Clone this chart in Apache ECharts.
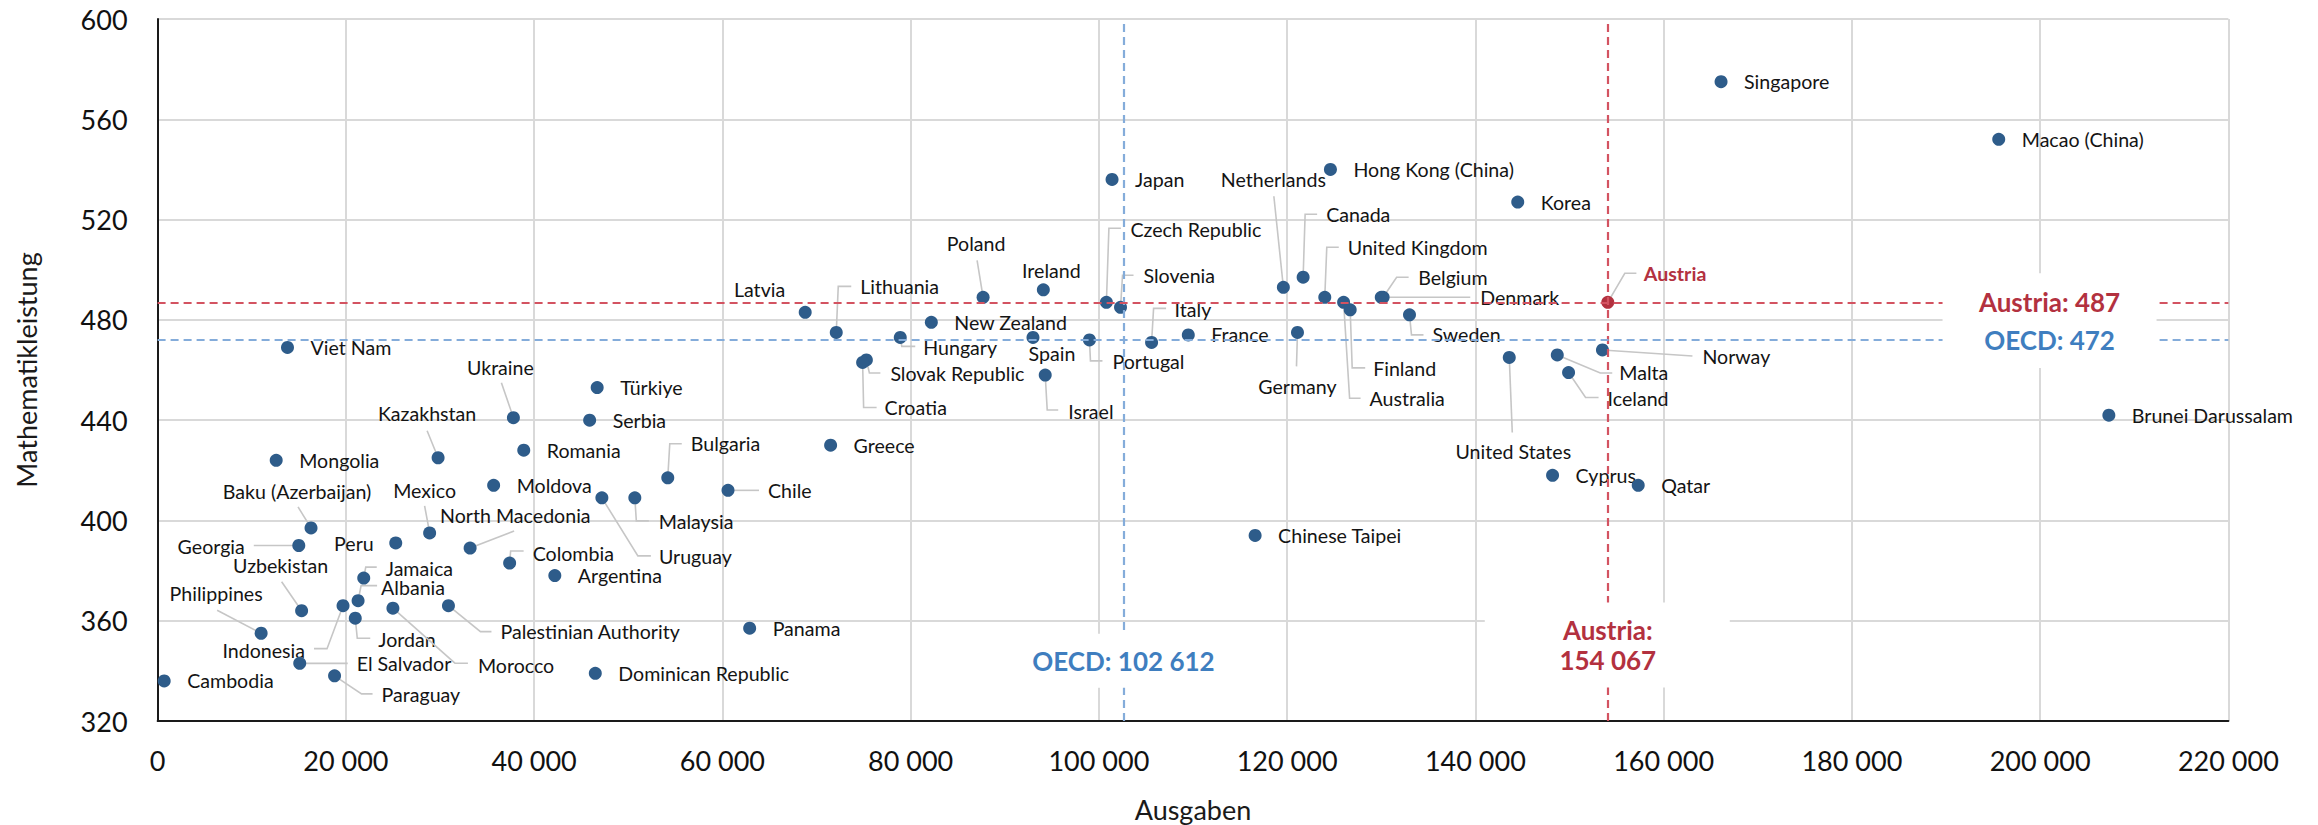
<!DOCTYPE html>
<html>
<head>
<meta charset="utf-8">
<script src="https://cdn.jsdelivr.net/npm/echarts@6/dist/echarts.min.js"></script>
<style>
html,body{margin:0;padding:0;background:#ffffff;}
#chart{width:2318px;height:825px;}
</style>
</head>
<body>
<div id="chart"></div>
<script>
// ---- data ----
const countries = ['Viet Nam','Ukraine','Kazakhstan','Romania','Mongolia','Moldova','Baku (Azerbaijan)','Mexico','North Macedonia','Georgia','Peru','Colombia','Argentina','Jamaica','Albania','Uzbekistan','Indonesia','Jordan','Morocco','Palestinian Authority','Philippines','El Salvador','Paraguay','Cambodia','Serbia','Türkiye','Bulgaria','Greece','Chile','Uruguay','Malaysia','Panama','Dominican Republic','Latvia','Lithuania','Poland','Ireland','Czech Republic','Slovenia','New Zealand','Hungary','Spain','Portugal','Italy','Slovak Republic','Croatia','Israel','Japan','Hong Kong (China)','Korea','Netherlands','Canada','United Kingdom','Australia','Finland','Belgium','Denmark','Sweden','Germany','France','Austria','United States','Malta','Iceland','Norway','Singapore','Macao (China)','Brunei Darussalam','Chinese Taipei','Cyprus','Qatar'];
const spending = [13800,37800,29800,38900,12600,35700,16300,28900,33200,15000,25300,37400,42200,21900,21300,15300,19700,21000,25000,30900,11000,15100,18800,700,45900,46700,54200,71500,60600,47200,50700,62900,46500,68800,72100,87700,94100,100800,102300,82200,78900,93000,99000,105600,75300,74900,94300,101400,124600,144500,119600,121700,124000,126000,126700,130200,130000,133000,121100,109500,154067,143600,148700,149900,153500,166100,195600,207300,116600,148200,157300];
const mathScore = [469,441,425,428,424,414,397,395,389,390,391,383,378,377,368,364,366,361,365,366,355,343,338,336,440,453,417,430,412,409,409,357,339,483,475,489,492,487,485,479,473,473,472,471,464,463,458,536,540,527,493,497,489,487,484,489,489,482,475,474,487,465,466,459,468,575,552,442,394,418,414];

const oecdSpending = 102612;
const austriaSpending = 154067;
const oecdMath = 472;
const austriaMath = 487;

const xTicks = [0,20000,40000,60000,80000,100000,120000,140000,160000,180000,200000,220000];
const yTicks = [320,360,400,440,480,520,560,600];

// ---- layout / style config (kept separate from data) ----
const FONT = 'Lato';
const DOT = '#2E5C8A';
const RED = '#B3313F';
const RED_LINE = '#D35361';
const BLUE_TEXT = '#3F7EBF';
const BLUE_LINE = '#84ACDA';
const LEAD = '#C6C6C6';

// label offsets in px relative to the dot centre; a = anchor (l: left edge, c: centre, r: right edge)
const defaultPlacement = {a:'l', dx:23, dy:0};
const labelPlacement = {
 'Ukraine': {a:'c', dx:-13, dy:-50, lead:[[-12,-35]]},
 'Kazakhstan': {a:'c', dx:-11, dy:-44, lead:[[-11,-27]]},
 'Baku (Azerbaijan)': {a:'c', dx:-14, dy:-36, lead:[[-13,-21]]},
 'Mexico': {a:'c', dx:-5, dy:-42, lead:[[-5,-27]]},
 'North Macedonia': {a:'l', dx:-30, dy:-33, lead:[[44,-17]]},
 'Georgia': {a:'r', dx:-54, dy:1, lead:[[-45,0]]},
 'Peru': {a:'r', dx:-22, dy:1},
 'Colombia': {a:'l', dx:23, dy:-10, lead:[[1,-12],[14,-12]]},
 'Jamaica': {a:'l', dx:22, dy:-10, lead:[[2,-11],[13,-11]]},
 'Albania': {a:'l', dx:23, dy:-13, lead:[[3,-15],[19,-15]]},
 'Uzbekistan': {a:'c', dx:-21, dy:-45, lead:[[-20,-29]]},
 'Philippines': {a:'c', dx:-45, dy:-40, lead:[[-44,-23]]},
 'Indonesia': {a:'r', dx:-38, dy:45, lead:[[-16,43],[-29,43]]},
 'Jordan': {a:'l', dx:23, dy:21, lead:[[2,20],[15,20]]},
 'El Salvador': {a:'l', dx:57, dy:0, lead:[[48,0]]},
 'Morocco': {a:'l', dx:85, dy:57, lead:[[62,55],[75,55]]},
 'Palestinian Authority': {a:'l', dx:52, dy:26, lead:[[32,26],[43,26]]},
 'Paraguay': {a:'l', dx:47, dy:19, lead:[[27,18],[38,18]]},
 'Bulgaria': {a:'l', dx:23, dy:-34, lead:[[2,-34],[14,-34]]},
 'Chile': {a:'l', dx:40, dy:0, lead:[[31,0]]},
 'Malaysia': {a:'l', dx:24, dy:24, lead:[[1.5,23],[14,23]]},
 'Uruguay': {a:'l', dx:57, dy:59, lead:[[36,58],[49,58]]},
 'Latvia': {a:'r', dx:-20, dy:-23},
 'Lithuania': {a:'l', dx:24, dy:-46, lead:[[2,-46],[15,-46]]},
 'Poland': {a:'c', dx:-7, dy:-54, lead:[[-6,-37]]},
 'Ireland': {a:'c', dx:8, dy:-19},
 'Hungary': {a:'l', dx:23, dy:10, lead:[[1.5,9],[15,9]]},
 'Spain': {a:'c', dx:19, dy:16},
 'Portugal': {a:'l', dx:23, dy:22, lead:[[1,21],[13,21]]},
 'Slovak Republic': {a:'l', dx:24, dy:14, lead:[[3,13],[14,13]]},
 'Croatia': {a:'l', dx:22, dy:45, lead:[[1,45],[14,45]]},
 'Israel': {a:'l', dx:23, dy:36, lead:[[2,35],[13,35]]},
 'Czech Republic': {a:'l', dx:24, dy:-73, lead:[[2.5,-74],[14.5,-74]]},
 'Slovenia': {a:'l', dx:23, dy:-32, lead:[[2,-32],[13,-32]]},
 'Italy': {a:'l', dx:23, dy:-33, lead:[[2,-34],[14.5,-34]]},
 'Germany': {a:'c', dx:0, dy:54, lead:[[-1,34]]},
 'Netherlands': {a:'c', dx:-10, dy:-108, lead:[[-9.5,-91]]},
 'Canada': {a:'l', dx:23, dy:-63, lead:[[2,-63],[14,-63]]},
 'United Kingdom': {a:'l', dx:23, dy:-50, lead:[[2,-50],[14,-50]]},
 'Belgium': {a:'l', dx:35, dy:-20, lead:[[13.5,-20],[25.5,-20]]},
 'Denmark': {a:'l', dx:99, dy:0, lead:[[89,0]]},
 'Sweden': {a:'l', dx:23, dy:20, lead:[[2,20],[14,20]]},
 'Finland': {a:'l', dx:23, dy:59, lead:[[2,58],[15,58]]},
 'Australia': {a:'l', dx:26, dy:96, lead:[[6,96],[17,96]]},
 'Austria': {a:'l', dx:36, dy:-29, lead:[[17,-29],[28.6,-29]]},
 'United States': {a:'c', dx:4, dy:94, lead:[[3,75]]},
 'Malta': {a:'l', dx:62, dy:18, lead:[[43,18],[55,18]]},
 'Iceland': {a:'l', dx:39, dy:26, lead:[[17,25],[30,25]]},
 'Norway': {a:'l', dx:100, dy:7, lead:[[90,6]]}
};
const alignMap = {l:'left', c:'center', r:'right'};

function fmt(v){ return String(v).replace(/\B(?=(\d{3})+(?!\d))/g, ' '); }

const pointData = countries.map((n, i) => ({
  name: n,
  value: [spending[i], mathScore[i]],
  itemStyle: n === 'Austria' ? {color: RED} : undefined
}));
const labelData = countries.map((n, i) => [spending[i], mathScore[i]]);

function renderLabel(params, api) {
  const name = countries[params.dataIndex];
  const s = labelPlacement[name] || defaultPlacement;
  const p = api.coord([api.value(0), api.value(1)]);
  const children = [];
  if (s.lead) {
    const pts = [[p[0], p[1]]].concat(s.lead.map(q => [p[0] + q[0], p[1] + q[1]]));
    children.push({type:'polyline', shape:{points:pts}, style:{stroke:LEAD, lineWidth:1.6, fill:null}});
  }
  const isAT = name === 'Austria';
  children.push({
    type:'text', x:p[0] + s.dx, y:p[1] + s.dy,
    style:{text:name, fill: isAT ? RED : '#141414',
      font: (isAT ? 'bold ' : '') + '19.6px ' + FONT,
      align: alignMap[s.a], verticalAlign:'middle',
      textAlign: alignMap[s.a], textVerticalAlign:'middle'}
  });
  return {type:'group', children};
}

// annotation anchors (data coordinates)
const noteData = [[201000, austriaMath], [oecdSpending, 344], [austriaSpending, 350.5]];

function boldText(x, y, text, color) {
  return {type:'text', x, y, style:{text, fill:color, font:'bold 26px ' + FONT,
    align:'center', verticalAlign:'middle', textAlign:'center', textVerticalAlign:'middle'}};
}

function renderNote(params, api) {
  const i = params.dataIndex;
  const p = api.coord([api.value(0), api.value(1)]);
  if (i === 0) {
    const yA = api.coord([api.value(0), austriaMath])[1];
    const yO = api.coord([api.value(0), oecdMath])[1];
    return {type:'group', children:[
      {type:'rect', shape:{x:p[0]-107, y:yA-29, width:214, height:(yO+28)-(yA-29)}, style:{fill:'#ffffff'}},
      boldText(p[0], yA, 'Austria: ' + austriaMath, RED),
      boldText(p[0], yO, 'OECD: ' + oecdMath, BLUE_TEXT)
    ]};
  } else if (i === 1) {
    return {type:'group', children:[
      {type:'rect', shape:{x:p[0]-95, y:p[1]-27, width:190, height:54}, style:{fill:'#ffffff'}},
      boldText(p[0], p[1], 'OECD: ' + fmt(oecdSpending), BLUE_TEXT)
    ]};
  }
  return {type:'group', children:[
    {type:'rect', shape:{x:p[0]-123, y:p[1]-42, width:245, height:85}, style:{fill:'#ffffff'}},
    boldText(p[0], p[1]-15, 'Austria:', RED),
    boldText(p[0], p[1]+15, fmt(austriaSpending), RED)
  ]};
}

const chart = echarts.init(document.getElementById('chart'), null, {renderer:'svg'});
chart.setOption({
  animation: false,
  backgroundColor: '#ffffff',
  grid: {left:157.6, right:89.6, top:19, bottom:104, containLabel:false, outerBoundsMode:'none'},
  xAxis: {
    type:'value', min:xTicks[0], max:xTicks[xTicks.length-1], interval:xTicks[1]-xTicks[0],
    name:'Ausgaben', nameLocation:'middle', nameGap:75,
    nameTextStyle:{fontFamily:FONT, fontSize:27, color:'#1a1a1a'},
    axisLine:{show:true, lineStyle:{color:'#1a1a1a', width:2}},
    axisTick:{show:false},
    axisLabel:{fontFamily:FONT, fontSize:27, color:'#111111', margin:26, formatter:v => fmt(v)},
    splitLine:{show:true, lineStyle:{color:'#D9D9D9', width:2}}
  },
  yAxis: {
    type:'value', min:yTicks[0], max:yTicks[yTicks.length-1], interval:yTicks[1]-yTicks[0],
    name:'Mathematikleistung', nameLocation:'middle', nameGap:118,
    nameTextStyle:{fontFamily:FONT, fontSize:27, color:'#1a1a1a'},
    axisLine:{show:true, lineStyle:{color:'#1a1a1a', width:2}},
    axisTick:{show:false},
    axisLabel:{fontFamily:FONT, fontSize:27, color:'#111111', margin:30},
    splitLine:{show:true, lineStyle:{color:'#D9D9D9', width:2}}
  },
  series: [
    {
      type:'custom', name:'labels', renderItem:renderLabel, data:labelData,
      encode:{x:0, y:1}, clip:false, silent:true, z:3
    },
    {
      type:'scatter', name:'countries', data:pointData, symbol:'circle', symbolSize:13,
      itemStyle:{color:DOT, opacity:1}, silent:true, z:4,
      markLine:{
        silent:true, symbol:'none', label:{show:false}, animation:false,
        data:[
          {xAxis:oecdSpending, lineStyle:{color:BLUE_LINE, width:2.2, type:[8,5]}},
          {xAxis:austriaSpending, lineStyle:{color:RED_LINE, width:2.2, type:[8,5]}},
          {yAxis:oecdMath, lineStyle:{color:BLUE_LINE, width:2.2, type:[8,5]}},
          {yAxis:austriaMath, lineStyle:{color:RED_LINE, width:2.2, type:[8,5]}}
        ]
      }
    },
    {
      type:'custom', name:'notes', renderItem:renderNote, data:noteData,
      encode:{x:0, y:1}, clip:false, silent:true, z:10
    }
  ]
});
</script>
</body>
</html>
